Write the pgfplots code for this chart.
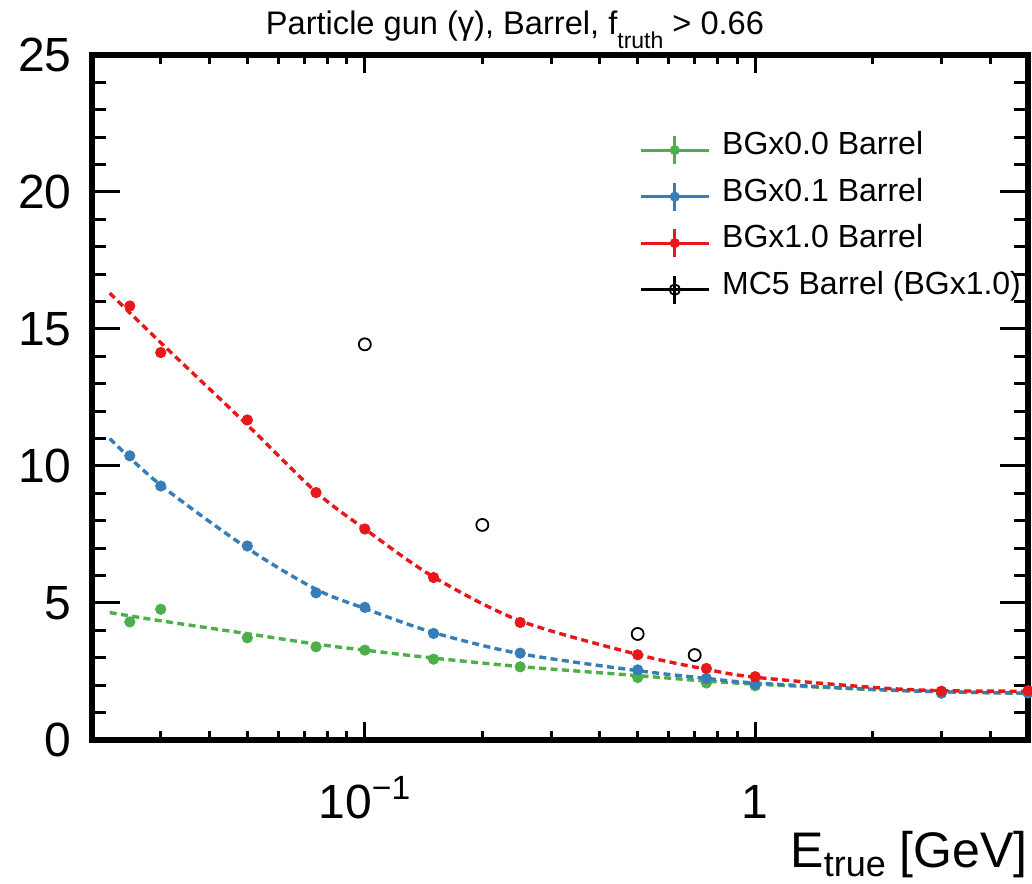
\documentclass[border=0pt]{standalone}
\usepackage{fontspec}
\setmainfont{Liberation Sans}
\usepackage{pgfplots}
\pgfplotsset{compat=1.18}
\definecolor{cgreen}{RGB}{77,175,74}
\definecolor{cblue}{RGB}{55,126,184}
\definecolor{cred}{RGB}{230,24,26}

\pgfplotsset{
  errleg/.style={legend image code/.code={
    \draw[solid, line width=1.4pt] (0pt,0pt) -- (34pt,0pt);
    \draw[solid, line width=1.4pt] (17pt,-7pt) -- (17pt,7pt);
    \fill (17pt,0pt) circle (2.3pt);
  }},
  errlegopen/.style={legend image code/.code={
    \draw[solid, line width=1.4pt] (0pt,0pt) -- (34pt,0pt);
    \draw[solid, line width=1.4pt] (17pt,-7pt) -- (17pt,7pt);
    \draw[solid, line width=0.9pt] (17pt,0pt) circle (2.6pt);
  }},
  fitline/.style={line width=1.7pt, dash pattern=on 3.5pt off 2.2pt, smooth, forget plot},
}

\begin{document}
\begin{tikzpicture}
\useasboundingbox (-46pt,-71.5pt) rectangle (470pt,370pt);
\begin{axis}[
  scale only axis, width=468pt, height=342.5pt,
  xmode=log, xmin=0.02, xmax=5, ymin=0, ymax=25,
  xtick={0.1,1}, xticklabels={10\textsuperscript{−1},1},
  minor xtick={0.02,0.03,0.04,0.05,0.06,0.07,0.08,0.09,0.2,0.3,0.4,0.5,0.6,0.7,0.8,0.9,2,3,4,5},
  ytick={0,5,10,15,20,25}, minor y tick num=4,
  tick align=inside,
  axis line style={line width=2.6pt},
  major tick style={line width=1.5pt, black},
  minor tick style={line width=1.5pt, black},
  xtick style={/pgfplots/major tick length=9pt, /pgfplots/minor tick length=4.5pt},
  ytick style={/pgfplots/major tick length=14pt, /pgfplots/minor tick length=7pt},
  /pgf/number format/assume math mode=true,
  ticklabel style={font=\fontsize{24}{28}\selectfont},
  yticklabel style={inner sep=0pt, xshift=-10pt},
  xticklabel style={anchor=base, inner sep=0pt, yshift=-39pt},
  title={Particle gun (γ), Barrel, f\raisebox{-7pt}{\fontsize{11.5}{12}\selectfont truth} > 0.66},
  title style={at={(axis description cs:0.4519,1.0292)}, anchor=base, inner sep=0pt, yshift=-6pt, font=\fontsize{16.3}{19}\selectfont},
  xlabel={E\raisebox{-4.5pt}{\fontsize{18}{20}\selectfont true} [GeV]},
  xlabel style={at={(axis description cs:1,0)}, anchor=base east, inner sep=0pt, yshift=-63.5pt, font=\fontsize{25}{30}\selectfont},
  legend cell align=left,
  legend style={draw=none, fill=none, inner sep=0pt, row sep=0pt,
    font=\fontsize{16}{19}\selectfont,
    nodes={inner sep=0pt, text height=14pt, text depth=9.25pt},
    /tikz/every odd column/.style={column sep=6pt},
    at={(axis description cs:0.5844,0.8956)}, anchor=north west},
]
% fits (dashed)
\addplot[cgreen, fitline] coordinates {
(0.0222,4.65) (0.03,4.35) (0.05,3.88) (0.075,3.5) (0.1,3.28) (0.15,2.99) (0.25,2.68) (0.5,2.35) (0.75,2.15) (1,2.04) (2,1.84) (3,1.76) (5,1.70)};
\addplot[cblue, fitline] coordinates {
(0.0222,11.0) (0.03,9.3) (0.05,7.0) (0.075,5.5) (0.1,4.8) (0.15,3.92) (0.25,3.15) (0.5,2.53) (0.75,2.25) (1,2.08) (2,1.85) (3,1.76) (5,1.71)};
\addplot[cred, fitline] coordinates {
(0.0222,16.31) (0.03,14.5) (0.05,11.5) (0.075,9.05) (0.1,7.7) (0.15,5.95) (0.25,4.35) (0.5,3.12) (0.75,2.58) (1,2.29) (2,1.92) (3,1.80) (5,1.78)};
% data points
\addplot[cgreen, only marks, mark=*, mark size=2.6pt, errleg] coordinates {
(0.025,4.31) (0.03,4.77) (0.05,3.73) (0.075,3.40) (0.1,3.28) (0.15,2.95) (0.25,2.67) (0.5,2.28) (0.75,2.08) (1,1.98) (3,1.72) (5,1.72)};
\addlegendentry{BGx0.0 Barrel}
\addplot[cblue, only marks, mark=*, mark size=2.6pt, errleg] coordinates {
(0.025,10.37) (0.03,9.27) (0.05,7.08) (0.075,5.37) (0.1,4.84) (0.15,3.89) (0.25,3.17) (0.5,2.56) (0.75,2.25) (1,2.04) (3,1.71) (5,1.73)};
\addlegendentry{BGx0.1 Barrel}
\addplot[cred, only marks, mark=*, mark size=2.6pt, errleg] coordinates {
(0.025,15.84) (0.03,14.14) (0.05,11.68) (0.075,9.03) (0.1,7.70) (0.15,5.93) (0.25,4.29) (0.5,3.11) (0.75,2.61) (1,2.31) (3,1.78) (5,1.80)};
\addlegendentry{BGx1.0 Barrel}
\addplot[black, only marks, mark=o, mark size=3pt, mark options={line width=0.9pt}, errlegopen] coordinates {
(0.1,14.44) (0.2,7.85) (0.5,3.87) (0.7,3.10)};
\addlegendentry{MC5 Barrel (BGx1.0)}
\end{axis}
\end{tikzpicture}
\end{document}
